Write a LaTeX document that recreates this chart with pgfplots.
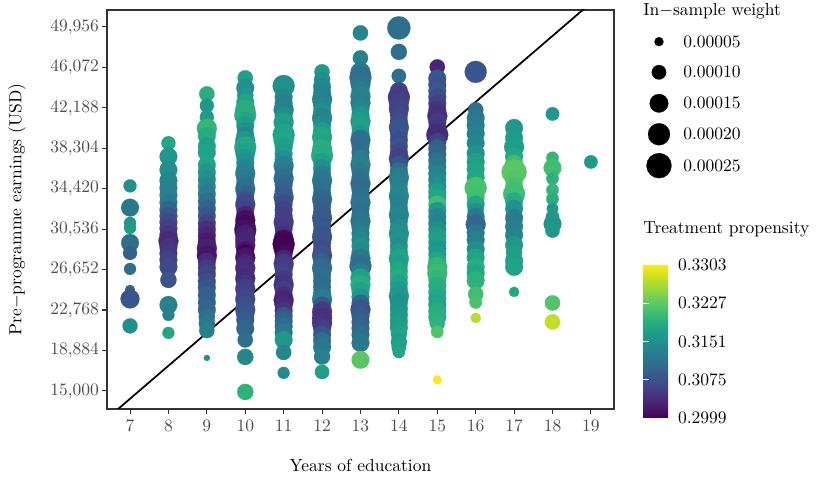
\documentclass[border=0pt]{standalone}
\usepackage{pgfplots}
\usepackage{pgfplotstable}
\pgfplotsset{compat=1.18}
\definecolor{grey20}{HTML}{333333}
\definecolor{grey30}{HTML}{4D4D4D}

% columns: years of education, earnings (USD), treatment propensity, in-sample weight (x 1e-5)
\pgfplotstableread{
x y c w
7 34688 0.3150 8.5
7 32604 0.3120 14
7 31135 0.3160 7.5
7 30655 0.3165 7.5
7 29214 0.3110 14
7 28254 0.3090 9.6
7 26717 0.3110 7.5
7 24700 0.3090 5.8
7 23836 0.3080 15.6
7 21243 0.3150 10.7
8 38790 0.3180 9.6
8 37500 0.3160 14
8 36225 0.3150 14
8 35200 0.3140 14
8 34500 0.3135 14
8 33800 0.3130 14
8 33100 0.3120 14
8 32400 0.3100 14
8 31800 0.3080 14
8 31200 0.3065 14
8 30600 0.3055 14
8 30000 0.3045 14
8 29400 0.3035 17
8 28800 0.3045 14
8 28200 0.3050 14
8 27600 0.3060 14
8 26900 0.3065 14
8 25660 0.3080 12
8 23260 0.3130 14
8 22300 0.3130 7.5
8 20570 0.3180 7.5
9 43524 0.3190 11
9 42400 0.3160 9.6
9 41300 0.3165 9.6
9 40200 0.3200 17
9 39500 0.3185 14
9 38500 0.3170 14
9 37900 0.3175 14
9 36700 0.3180 14
9 36000 0.3160 14
9 35300 0.3150 14
9 34600 0.3140 14
9 33900 0.3125 14
9 33200 0.3110 14
9 32500 0.3095 14
9 31800 0.3080 14
9 31100 0.3060 14
9 30500 0.3040 14
9 29900 0.3030 14
9 29300 0.3020 14
9 28700 0.3025 17
9 28000 0.3015 17
9 27400 0.3035 14
9 26800 0.3050 14
9 26200 0.3060 14
9 25500 0.3070 14
9 24900 0.3080 14
9 24200 0.3090 14
9 23500 0.3095 14
9 22800 0.3100 14
9 22100 0.3110 12
9 21500 0.3120 12
9 20800 0.3130 11
9 18170 0.3150 3
10 45060 0.3170 11
10 44100 0.3150 14
10 43400 0.3160 12
10 42700 0.3175 14
10 42000 0.3185 17
10 41500 0.3190 20
10 41000 0.3180 14
10 40500 0.3165 14
10 40000 0.3150 12
10 39500 0.3140 14
10 39000 0.3160 17
10 38400 0.3180 20
10 37900 0.3175 17
10 37400 0.3160 14
10 36900 0.3150 14
10 36400 0.3140 14
10 35900 0.3130 17
10 35400 0.3125 14
10 34900 0.3120 14
10 34400 0.3110 17
10 33900 0.3095 14
10 33400 0.3075 14
10 32900 0.3065 17
10 32400 0.3060 14
10 31900 0.3030 14
10 31400 0.3010 17
10 30900 0.3005 17
10 30450 0.3010 20
10 30000 0.3025 17
10 29500 0.3030 17
10 29000 0.3030 17
10 28500 0.3015 14
10 28200 0.2999 14
10 27800 0.3015 17
10 27300 0.3030 14
10 26800 0.3035 17
10 26300 0.3040 14
10 25800 0.3035 17
10 25300 0.3045 14
10 24800 0.3055 17
10 24300 0.3060 14
10 23800 0.3065 17
10 23300 0.3070 14
10 22800 0.3075 17
10 22300 0.3080 14
10 21800 0.3085 14
10 21000 0.3100 14
10 19900 0.3110 11
10 18265 0.3140 12
10 14900 0.3195 12
11 44290 0.3150 20
11 43200 0.3140 14
11 42600 0.3130 14
11 42000 0.3135 17
11 41400 0.3150 14
11 40800 0.3170 17
11 40200 0.3165 14
11 39600 0.3175 20
11 39000 0.3180 17
11 38400 0.3170 14
11 37800 0.3165 14
11 37200 0.3150 14
11 36600 0.3130 17
11 36000 0.3120 14
11 35400 0.3110 17
11 34800 0.3100 14
11 34200 0.3095 14
11 33600 0.3085 17
11 33000 0.3070 14
11 32400 0.3060 14
11 31800 0.3055 14
11 31200 0.3055 17
11 30600 0.3050 14
11 30000 0.3040 14
11 29500 0.3005 17
11 29100 0.2999 20
11 28700 0.3000 17
11 28200 0.3005 14
11 27700 0.3030 14
11 27200 0.3050 17
11 26700 0.3055 14
11 26200 0.3060 14
11 25700 0.3050 14
11 25200 0.3045 17
11 24700 0.3055 14
11 24200 0.3040 14
11 23700 0.3030 17
11 23200 0.3035 14
11 22700 0.3045 14
11 22200 0.3080 14
11 21700 0.3095 14
11 21200 0.3105 14
11 20600 0.3120 14
11 19900 0.3160 14
11 18700 0.3140 11
11 16730 0.3145 7.5
12 45640 0.3165 11
12 44900 0.3150 12
12 44200 0.3140 14
12 43600 0.3135 14
12 43000 0.3130 17
12 42400 0.3140 14
12 41800 0.3150 14
12 41200 0.3135 17
12 40600 0.3145 14
12 40000 0.3165 14
12 39400 0.3180 17
12 38800 0.3175 14
12 38200 0.3190 17
12 37600 0.3185 20
12 37000 0.3170 14
12 36400 0.3150 14
12 35800 0.3130 14
12 35200 0.3120 17
12 34600 0.3115 14
12 34000 0.3110 14
12 33400 0.3100 17
12 32800 0.3095 14
12 32200 0.3090 14
12 31600 0.3085 17
12 31000 0.3080 14
12 30400 0.3085 14
12 29800 0.3075 17
12 29200 0.3075 14
12 28600 0.3070 14
12 28000 0.3075 17
12 27400 0.3090 14
12 26800 0.3105 17
12 26200 0.3110 14
12 25600 0.3110 14
12 25000 0.3105 14
12 24400 0.3110 14
12 23800 0.3125 17
12 23200 0.3080 14
12 22600 0.3050 17
12 22000 0.3040 17
12 21500 0.3045 17
12 21000 0.3055 14
12 20400 0.3080 14
12 19800 0.3110 14
12 19200 0.3120 14
12 18300 0.3130 12
12 16825 0.3170 10
13 49380 0.3140 11
13 46980 0.3130 11
13 45600 0.3120 17
13 45100 0.3110 20
13 44500 0.3115 17
13 43900 0.3125 14
13 43300 0.3135 17
13 42700 0.3130 17
13 42100 0.3140 14
13 41500 0.3155 14
13 40900 0.3165 17
13 40300 0.3170 14
13 39700 0.3160 14
13 39100 0.3110 17
13 38500 0.3105 14
13 37900 0.3110 14
13 37300 0.3125 14
13 36700 0.3130 17
13 36100 0.3120 14
13 35500 0.3115 14
13 34900 0.3110 17
13 34300 0.3105 14
13 33700 0.3110 14
13 33100 0.3115 17
13 32500 0.3112 14
13 31900 0.3108 14
13 31300 0.3115 17
13 30700 0.3120 14
13 30100 0.3130 14
13 29500 0.3140 14
13 28900 0.3150 14
13 28300 0.3145 14
13 27700 0.3120 17
13 27000 0.3110 20
13 26400 0.3130 14
13 25800 0.3170 17
13 25200 0.3185 17
13 24600 0.3175 14
13 24000 0.3160 14
13 23400 0.3100 14
13 22800 0.3080 17
13 22200 0.3085 14
13 21600 0.3095 14
13 21000 0.3100 14
13 20400 0.3110 14
13 19600 0.3120 14
13 17980 0.3225 14
14 49860 0.3110 22
14 47560 0.3110 12
14 45250 0.3110 10
14 43800 0.3060 14
14 43200 0.3050 20
14 42700 0.3055 17
14 42100 0.3060 17
14 41500 0.3065 14
14 40900 0.3070 14
14 40300 0.3075 17
14 39700 0.3080 14
14 39100 0.3070 14
14 38500 0.3075 14
14 37900 0.3065 14
14 37300 0.3060 17
14 36700 0.3080 14
14 36100 0.3110 14
14 35500 0.3125 17
14 34900 0.3130 14
14 34300 0.3135 14
14 33700 0.3140 17
14 33100 0.3135 14
14 32500 0.3130 14
14 31900 0.3140 17
14 31300 0.3135 14
14 30700 0.3145 14
14 30100 0.3150 17
14 29500 0.3155 14
14 28900 0.3150 14
14 28300 0.3165 14
14 27700 0.3175 17
14 27100 0.3170 14
14 26500 0.3180 14
14 25900 0.3185 14
14 25300 0.3175 14
14 24700 0.3165 14
14 24100 0.3160 17
14 23500 0.3150 14
14 22900 0.3155 14
14 22300 0.3160 14
14 21700 0.3165 14
14 21100 0.3170 14
14 20500 0.3175 12
14 19700 0.3170 12
14 19200 0.3175 10
14 18745 0.3180 8
15 46110 0.3030 11
15 45000 0.3080 14
15 44400 0.3075 14
15 43800 0.3085 14
15 43200 0.3070 14
15 42600 0.3060 14
15 42000 0.3045 14
15 41400 0.3040 17
15 40800 0.3050 14
15 40200 0.3045 14
15 39590 0.3035 20
15 38900 0.3060 14
15 38300 0.3090 14
15 37700 0.3100 14
15 37100 0.3110 14
15 36500 0.3120 14
15 35900 0.3135 14
15 35300 0.3140 14
15 34700 0.3150 14
15 34100 0.3170 14
15 33600 0.3180 14
15 32900 0.3210 14
15 32300 0.3160 14
15 31700 0.3140 14
15 31100 0.3135 14
15 30500 0.3150 14
15 29900 0.3165 14
15 29300 0.3170 14
15 28700 0.3160 14
15 28100 0.3165 14
15 27500 0.3180 14
15 26900 0.3200 17
15 26300 0.3205 17
15 25700 0.3200 14
15 25100 0.3190 14
15 24500 0.3185 14
15 23900 0.3180 14
15 23300 0.3175 14
15 22700 0.3185 14
15 22100 0.3190 14
15 21500 0.3195 11
15 20670 0.3220 8
15 16060 0.3303 5
16 45640 0.3080 20
16 41990 0.3110 11
16 41200 0.3120 14
16 40500 0.3125 14
16 39700 0.3130 14
16 38800 0.3140 14
16 37800 0.3155 14
16 37000 0.3170 14
16 36300 0.3175 14
16 35500 0.3180 14
16 34500 0.3215 20
16 33600 0.3210 14
16 32900 0.3180 14
16 32300 0.3150 12
16 31700 0.3125 14
16 31000 0.3100 17
16 30200 0.3120 14
16 29500 0.3130 14
16 28600 0.3150 14
16 27800 0.3175 14
16 26900 0.3190 14
16 26300 0.3180 14
16 25600 0.3195 14
16 24300 0.3210 11
16 23500 0.3215 8
16 22010 0.3270 6
17 40260 0.3160 14
17 39300 0.3165 14
17 38430 0.3170 17
17 37500 0.3180 14
17 36800 0.3210 14
17 36030 0.3225 25
17 35300 0.3220 14
17 34600 0.3215 14
17 33920 0.3210 20
17 33200 0.3185 14
17 32500 0.3155 14
17 31600 0.3125 14
17 30800 0.3130 14
17 29980 0.3135 14
17 29000 0.3160 14
17 28300 0.3170 12
17 27500 0.3170 14
17 26910 0.3175 14
17 24510 0.3180 6
18 41600 0.3160 9
18 37380 0.3200 8
18 36420 0.3210 14
18 35400 0.3195 8
18 34300 0.3200 8
18 33440 0.3190 8
18 32500 0.3165 7
18 31700 0.3160 9
18 31040 0.3155 14
18 30400 0.3160 10
18 23450 0.3220 11
18 21630 0.3275 11
19 36990 0.3165 9
}\earnings

\pgfplotstableread{
x y w
659 41.7 5
659 72.3 10
659 103.3 15
659 134.3 20
659 165.7 25
}\sizekey

\begin{document}
\begin{tikzpicture}
\path[use as bounding box] (0pt,0pt) rectangle (474.3pt,277.1pt);
\begin{axis}[
  at={(61.14pt,43.43pt)}, anchor=south west,
  scale only axis, width=289.7pt, height=228.0pt,
  xmin=6.4, xmax=19.6, ymin=13271, ymax=51592,
  xtick={7,8,...,19},
  ytick={15000,18884,22768,26652,30536,34420,38304,42188,46072,49956},
  yticklabels={{15,000},{18,884},{22,768},{26,652},{30,536},{34,420},{38,304},{42,188},{46,072},{49,956}},
  scaled y ticks=false, scaled x ticks=false,
  tick align=outside, tick pos=left,
  major tick length=2.75pt,
  every tick/.style={grey20, line width=0.6pt},
  axis line style={grey20, line width=0.7pt},
  ticklabel style={grey30},
  yticklabel style={xshift=1.7pt},
  colormap name=viridis,
  point meta min=0.2999, point meta max=0.3303,
  colorbar shift/.style={},
  colorbar,
  colorbar style={
    at={(parent axis.south east)}, anchor=south west,
    xshift=16.7pt, yshift=-5.2pt,
    scale only axis, width=17.4pt, height=87.5pt,
    ytick={0.2999,0.3075,0.3151,0.3227,0.3303},
    yticklabels={0.2999,0.3075,0.3151,0.3227,0.3303},
    scaled y ticks=false,
    axis line style={draw=none},
    tick align=inside, major tick length=3.4pt,
    ytick pos=both,
    ytick style={white, line width=0.5pt},
    yticklabel pos=right,
    yticklabel style={black, anchor=west, xshift=-1pt},
  },
]
\addplot[scatter, only marks, mark=*, point meta=explicit,
  scatter/use mapped color={draw=mapped color, fill=mapped color},
  mark options={line width=0.1pt},
  visualization depends on={-1.114+1.654*sqrt(\thisrow{w}) \as \rad},
  scatter/@pre marker code/.append style={/tikz/mark size=\rad pt},
] table[x=x, y=y, meta=c] {\earnings};
\addplot[black, line width=1pt] coordinates {(6.4,12345) (19.6,54163)};
\end{axis}

\begin{axis}[
  at={(0pt,0pt)}, anchor=south west,
  scale only axis, width=474.3pt, height=277.1pt,
  xmin=0, xmax=830, ymin=0, ymax=485, y dir=reverse,
  hide axis, clip=false,
]
\addplot[scatter, only marks, mark=*,
  scatter/use mapped color={draw=black, fill=black},
  mark options={line width=0.1pt},
  visualization depends on={-1.114+1.654*sqrt(\thisrow{w}) \as \rad},
  scatter/@pre marker code/.append style={/tikz/mark size=\rad pt},
] table[x=x, y=y] {\sizekey};
\node[anchor=west, inner sep=0pt] at (643,11) {In$-$sample weight};
\node[anchor=west, inner sep=0pt] at (683,41.7) {0.00005};
\node[anchor=west, inner sep=0pt] at (683,72.3) {0.00010};
\node[anchor=west, inner sep=0pt] at (683,103.3) {0.00015};
\node[anchor=west, inner sep=0pt] at (683,134.3) {0.00020};
\node[anchor=west, inner sep=0pt] at (683,165.7) {0.00025};
\node[anchor=west, inner sep=0pt] at (643,229) {Treatment propensity};
\node[rotate=90, inner sep=0pt] at (17,209.5) {Pre$-$programme earnings (USD)};
\node[inner sep=0pt] at (360.5,466) {Years of education};
\end{axis}
\end{tikzpicture}
\end{document}
